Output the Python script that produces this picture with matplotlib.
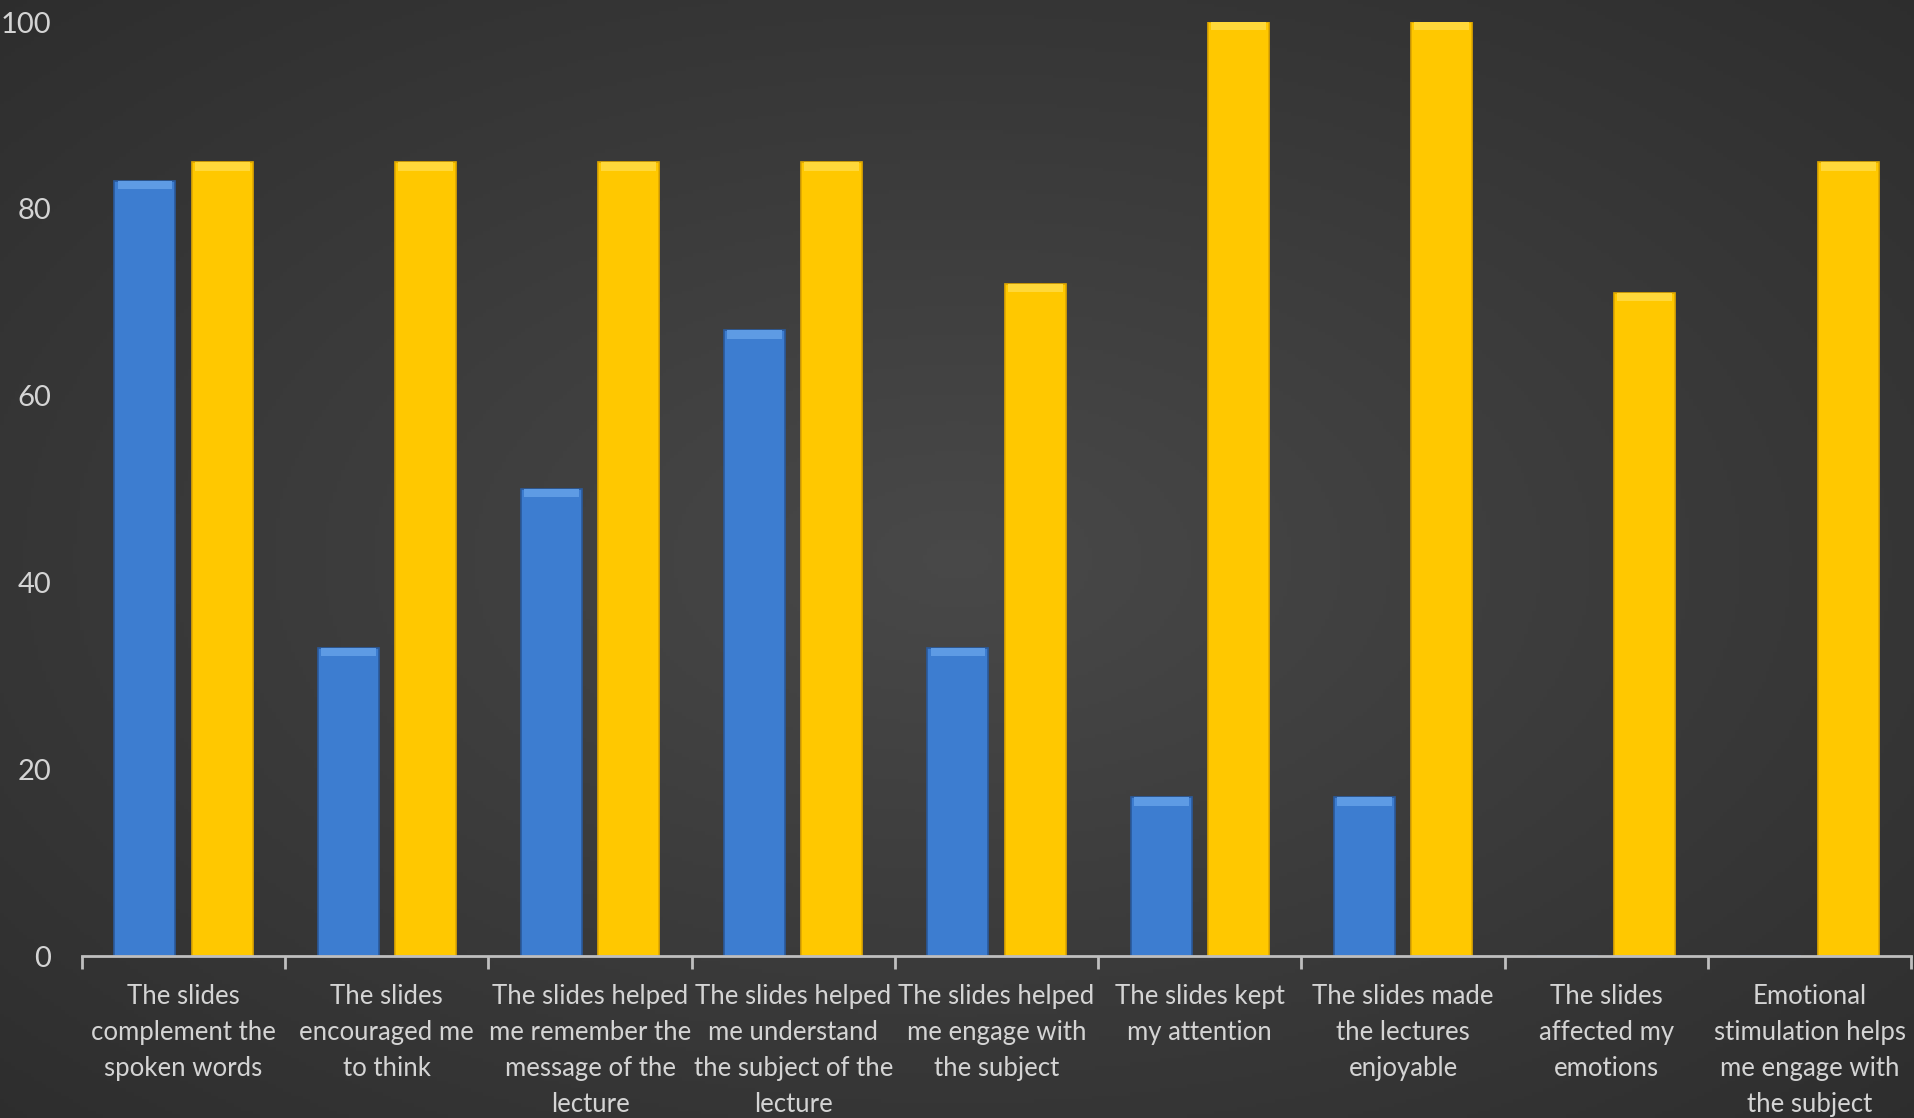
import numpy as np
import matplotlib.pyplot as plt

categories = [
    "The slides\ncomplement the\nspoken words",
    "The slides\nencouraged me\nto think",
    "The slides helped\nme remember the\nmessage of the\nlecture",
    "The slides helped\nme understand\nthe subject of the\nlecture",
    "The slides helped\nme engage with\nthe subject",
    "The slides kept\nmy attention",
    "The slides made\nthe lectures\nenjoyable",
    "The slides\naffected my\nemotions",
    "Emotional\nstimulation helps\nme engage with\nthe subject",
]
blue_vals = [83, 33, 50, 67, 33, 17, 17, 0, 0]
yellow_vals = [85, 85, 85, 85, 72, 100, 100, 71, 85]
yticks = [0, 20, 40, 60, 80, 100]

plt.rcParams['font.family'] = ['Lato', 'DejaVu Sans']

fig = plt.figure(figsize=(19.15, 11.18), dpi=100)

# radial gradient background
bg = fig.add_axes([0, 0, 1, 1])
yy, xx = np.mgrid[0:1:300j, 0:1:500j]
r = np.sqrt(((xx - 0.5) / 0.8) ** 2 + ((yy - 0.5) / 0.8) ** 2)
shade = 0.285 - 0.12 * np.clip(r, 0, 1)
bg.imshow(np.dstack([shade, shade, shade]), extent=[0, 1, 0, 1], aspect='auto', origin='lower')
bg.axis('off')

ax = fig.add_axes([0.0428, 0.1449, 0.9552, 0.8354])
ax.patch.set_alpha(0)

x = np.arange(len(categories))
w = 0.30
off = 0.19

ax.bar(x - off, blue_vals, w, color='#3d7dd0', edgecolor='#2a5a9c', linewidth=1.2, zorder=2)
ax.bar(x + off, yellow_vals, w, color='#ffc800', edgecolor='#e0a800', linewidth=1.2, zorder=2)

# bevel highlight on top of bars
bv = np.array(blue_vals, dtype=float)
yv = np.array(yellow_vals, dtype=float)
mb = bv > 0
ax.bar((x - off)[mb], 0.9, w * 0.9, bottom=bv[mb] - 0.9, color='#5e9be4', linewidth=0, zorder=3)
ax.bar(x + off, 0.9, w * 0.9, bottom=yv - 0.9, color='#ffd83a', linewidth=0, zorder=3)

ax.set_xlim(-0.5, len(categories) - 0.5)
ax.set_ylim(0, 100)
ax.set_yticks(yticks)
ax.set_yticklabels([str(t) for t in yticks])
ax.set_xticks(x)
ax.set_xticklabels(categories)
ax.set_xticks(np.arange(len(categories) + 1) - 0.5, minor=True)

for s in ['top', 'right', 'left']:
    ax.spines[s].set_visible(False)
ax.spines['bottom'].set_color('#bfbfbf')
ax.spines['bottom'].set_linewidth(2)

ax.tick_params(axis='y', length=0, labelsize=21, labelcolor='#d4d4d4', pad=22)
ax.tick_params(axis='x', which='major', length=0, labelsize=18.5, labelcolor='#d4d4d4', pad=20)
ax.tick_params(axis='x', which='minor', length=9, width=2, color='#bfbfbf')
for lbl in ax.get_xticklabels():
    lbl.set_linespacing(1.55)

fig.savefig('out.png', dpi=100)
